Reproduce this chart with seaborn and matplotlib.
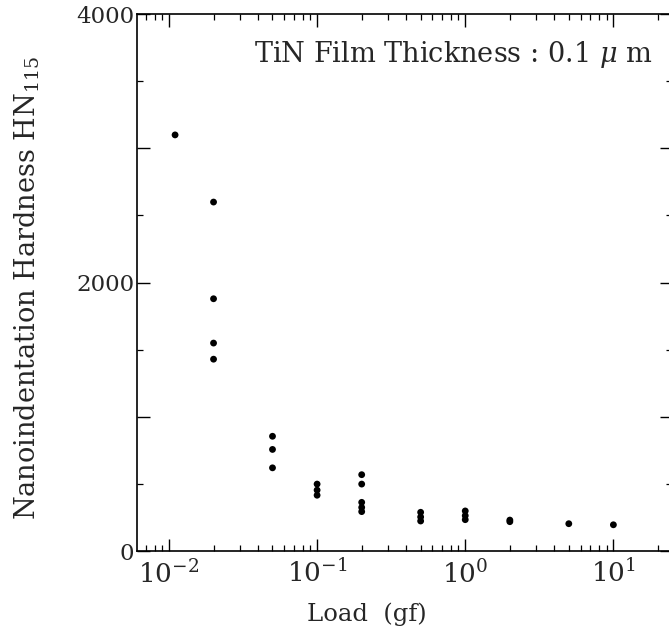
import numpy as np
import pandas as pd
import matplotlib
matplotlib.use("Agg")
import matplotlib.pyplot as plt
from matplotlib.ticker import LogLocator, MultipleLocator, FuncFormatter, NullFormatter
import seaborn as sns

# load (gf) and hardness values
load = [0.011,
        0.02, 0.02, 0.02, 0.02,
        0.05, 0.05, 0.05,
        0.1, 0.1, 0.1,
        0.2, 0.2, 0.2, 0.2, 0.2,
        0.5, 0.5, 0.5,
        1.0, 1.0, 1.0,
        2.0, 2.0,
        5.0,
        10.0]
hardness = [3100,
            2600, 1880, 1550, 1430,
            856, 758, 621,
            500, 455, 417,
            570, 500, 364, 326, 295,
            290, 255, 225,
            300, 265, 235,
            232, 220,
            205,
            197]

df = pd.DataFrame({"load": load, "hardness": hardness})

sns.set_style("ticks")
plt.rcParams['font.family'] = ['DejaVu Serif']
plt.rcParams['mathtext.fontset'] = 'dejavuserif'

fig = plt.figure(figsize=(6.69, 6.38), dpi=100)
ax = fig.add_axes([0.205, 0.136, 0.80, 0.842])

sns.scatterplot(data=df, x="load", y="hardness", color="black", s=24,
                edgecolor="none", ax=ax, legend=False)

ax.set_xscale("log")
ax.set_xlim(6.1e-3, 25)
ax.set_ylim(0, 4000)

ax.xaxis.set_major_locator(LogLocator(base=10, numticks=10))
ax.xaxis.set_minor_locator(LogLocator(base=10, subs=np.arange(2, 10), numticks=20))
ax.xaxis.set_minor_formatter(NullFormatter())
ax.yaxis.set_major_locator(MultipleLocator(1000))
ax.yaxis.set_minor_locator(MultipleLocator(500))
ax.yaxis.set_major_formatter(FuncFormatter(lambda v, p: f"{int(v)}" if v % 2000 == 0 else ""))

ax.tick_params(which="both", direction="in", top=True, right=True, color="black")
ax.tick_params(which="major", length=9, width=1.0)
ax.tick_params(which="minor", length=4.5, width=0.9)
ax.tick_params(axis="x", labelsize=19, pad=6)
ax.tick_params(axis="y", labelsize=16.5, pad=2)

for sp in ax.spines.values():
    sp.set_color("black")
    sp.set_linewidth(1.2)

ax.set_xlabel("Load  (gf)", fontsize=17.5, labelpad=10)
ax.xaxis.set_label_coords(0.43, -0.095)
ax.set_ylabel("Nanoindentation Hardness HN$_{115}$", fontsize=19.5)
ax.yaxis.set_label_coords(-0.177, 0.49)

ax.text(0.962, 0.925, "TiN Film Thickness : 0.1 $\\mu$ m", transform=ax.transAxes,
        fontsize=19.5, ha="right", va="center")

fig.savefig("out.png", dpi=100)
